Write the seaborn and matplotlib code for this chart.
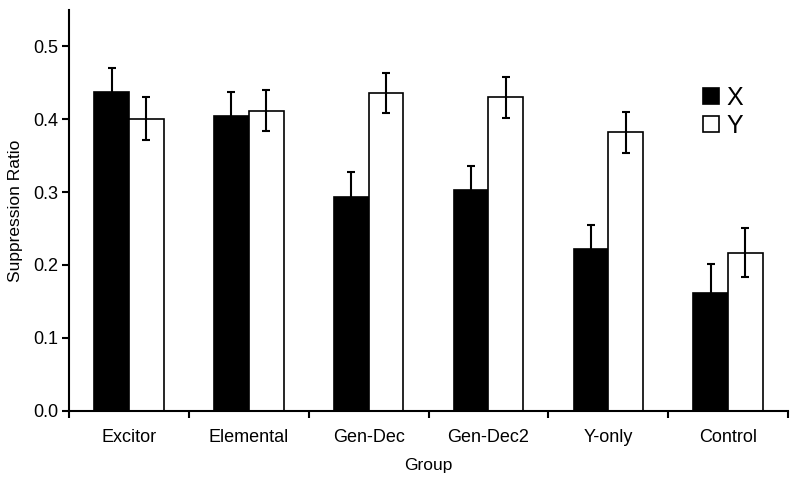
import numpy as np
import pandas as pd
import matplotlib
matplotlib.use("Agg")
import matplotlib.pyplot as plt
import seaborn as sns
from matplotlib.patches import Patch

# --- data ---
groups = ["Excitor", "Elemental", "Gen-Dec", "Gen-Dec2", "Y-only", "Control"]
x_means = [0.437, 0.404, 0.294, 0.303, 0.222, 0.162]
y_means = [0.401, 0.412, 0.436, 0.430, 0.382, 0.217]
x_err = [0.034, 0.033, 0.034, 0.033, 0.033, 0.040]
y_err = [0.029, 0.028, 0.028, 0.028, 0.028, 0.034]
stimuli = ["X", "Y"]

df = pd.DataFrame({
    "Group": groups * 2,
    "Stimulus": ["X"] * len(groups) + ["Y"] * len(groups),
    "ratio": x_means + y_means,
})

sns.set_style("ticks")
plt.rcParams["font.family"] = ["Liberation Sans", "DejaVu Sans"]
plt.rcParams.update({"text.color": "black", "axes.labelcolor": "black",
                     "xtick.color": "black", "ytick.color": "black",
                     "axes.edgecolor": "black"})

fig = plt.figure(figsize=(8, 4.83), dpi=100)
ax = fig.add_axes([0.08625, 0.1497, 0.8988, 0.8296])

sns.barplot(data=df, x="Group", y="ratio", hue="Stimulus", order=groups,
            hue_order=stimuli, palette={"X": "black", "Y": "white"},
            edgecolor="black", linewidth=1.2, width=0.58, errorbar=None,
            legend=False, ax=ax)

# error bars at the bar centres
for cont, errs in zip(ax.containers, [x_err, y_err]):
    for bar, e in zip(cont, errs):
        cx = bar.get_x() + bar.get_width() / 2
        ax.errorbar(cx, bar.get_height(), yerr=e, fmt="none", ecolor="black",
                    elinewidth=1.5, capsize=3.2, capthick=1.5, zorder=5)

ax.set_xlim(-0.5, len(groups) - 0.5)
ax.set_ylim(0, 0.55)
ax.set_yticks(np.arange(0, 0.51, 0.1))
ax.set_yticklabels([f"{v:.1f}" for v in np.arange(0, 0.51, 0.1)])
ax.set_xticks(np.arange(-0.5, len(groups), 1.0), minor=True)
ax.tick_params(axis="x", which="major", length=0, pad=13, labelsize=13)
ax.tick_params(axis="x", which="minor", length=5, width=1.5, direction="out")
ax.tick_params(axis="y", length=5, width=1.5, labelsize=13, pad=3)

for s in ["left", "bottom"]:
    ax.spines[s].set_linewidth(1.5)
sns.despine(ax=ax)

ax.set_xlabel("Group", fontsize=12.5, labelpad=9)
ax.set_ylabel("Suppression Ratio", fontsize=12.5, labelpad=7)

handles = [Patch(facecolor="black", edgecolor="black", linewidth=1.2, label="X"),
           Patch(facecolor="white", edgecolor="black", linewidth=1.2, label="Y")]
ax.legend(handles=handles, loc="upper left", bbox_to_anchor=(0.882, 0.81),
          frameon=False, fontsize=18, handlelength=0.62, handleheight=0.62,
          handletextpad=0.3, labelspacing=0.15, borderpad=0, borderaxespad=0)

fig.savefig("out.png", dpi=100)
